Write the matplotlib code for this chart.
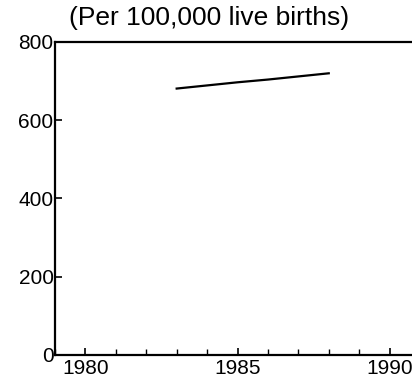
import matplotlib; matplotlib.use("Agg")
import matplotlib.pyplot as plt
from matplotlib.ticker import MultipleLocator

years = [1983, 1984, 1985, 1986, 1987, 1988]
rate = [681, 689, 697, 704, 712, 720]

plt.rcParams["font.family"] = ["Liberation Sans", "DejaVu Sans"]

fig = plt.figure(figsize=(4.12, 3.85), dpi=100)
ax = fig.add_axes([55/412, 30/385, 365/412, 313/385])

ax.plot(years, rate, color="black", lw=1.6)

ax.set_xlim(1979, 1991)
ax.set_ylim(0, 800)
ax.set_xticks([1980, 1985, 1990])
ax.xaxis.set_minor_locator(MultipleLocator(1))
ax.set_yticks([0, 200, 400, 600, 800])
ax.tick_params(axis="both", direction="in", labelsize=15, width=1.2, length=5, pad=3)
ax.tick_params(axis="x", which="minor", direction="in", length=4, width=1.0)
ax.tick_params(axis="y", pad=1)
for s in ax.spines.values():
    s.set_linewidth(1.6)
ax.spines["right"].set_visible(False)

fig.text(0.508, 0.953, "(Per 100,000 live births)", ha="center", va="center", fontsize=19)

fig.savefig("out.png", dpi=100)
